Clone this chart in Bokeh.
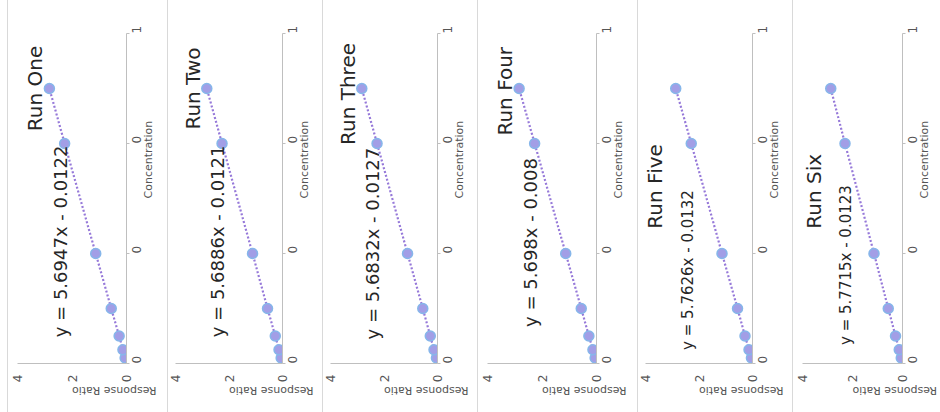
import math
from bokeh.plotting import figure
from bokeh.layouts import row
from bokeh.models import Range1d, FixedTicker, NumeralTickFormatter, Label, Spacer
from bokeh.embed import file_html
from bokeh.resources import INLINE

# ---------------- data ----------------
titles = ["Run One", "Run Two", "Run Three", "Run Four", "Run Five", "Run Six"]
equations = ["y = 5.6947x - 0.0122", "y = 5.6886x - 0.0121", "y = 5.6832x - 0.0127",
             "y = 5.698x - 0.008", "y = 5.7626x - 0.0132", "y = 5.7715x - 0.0123"]
concentration = [0.01, 0.025, 0.05, 0.1, 0.2, 0.4, 0.5]
run_one = [0.05, 0.13, 0.27, 0.56, 1.13, 2.27, 2.83]
run_two = [0.05, 0.13, 0.27, 0.56, 1.12, 2.26, 2.83]
run_three = [0.04, 0.13, 0.27, 0.55, 1.12, 2.26, 2.83]
run_four = [0.05, 0.13, 0.28, 0.56, 1.13, 2.27, 2.84]
run_five = [0.04, 0.13, 0.28, 0.56, 1.14, 2.29, 2.87]
run_six = [0.05, 0.13, 0.28, 0.57, 1.14, 2.30, 2.87]
runs = [run_one, run_two, run_three, run_four, run_five, run_six]
ratio_ticks = [0, 2, 4]
conc_ticks = [0, 0.2, 0.4, 0.6]

# ---------------- layout / style ----------------
panel_w = [159, 154, 154, 159, 154, 147]
left_b = [9, 7, 7, 9, 7, 9]
frame_w = [109, 107, 107, 109, 107, 104]
top_b = [28, 28, 28, 28, 33, 33]
panel_h = 412
frame_h = 335
title_pos = [(3.34, 0.50), (3.34, 0.50), (3.34, 0.49), (3.34, 0.495), (3.63, 0.322), (3.55, 0.313)]
eq_pos = [(2.42, 0.222), (2.42, 0.222), (2.42, 0.218), (2.42, 0.22), (2.42, 0.17), (2.28, 0.179)]
title_size = ["20px"] * 6
eq_size = ["18px", "18px", "18px", "18px", "15px", "15px"]

FONT = "DejaVu Sans"
TXT = "#262626"
TICK = "#555555"
AXIS = "#BFBFBF"
SEP = "#D9D9D9"
MARK_FILL = "#A29EE6"
MARK_LINE = "#86B6EA"
TREND = "#9679D9"

items = [Spacer(width=7, height=panel_h)]
for i in range(6):
    items.append(Spacer(width=1, height=panel_h, styles={"background-color": SEP}))
    rb = panel_w[i] - left_b[i] - frame_w[i]
    bb = panel_h - top_b[i] - frame_h
    p = figure(width=panel_w[i], height=panel_h,
               x_range=Range1d(4, 0), y_range=Range1d(0, 0.6),
               x_axis_location="below", y_axis_location="right",
               output_backend="svg", toolbar_location=None,
               min_border_left=left_b[i], min_border_right=rb,
               min_border_top=top_b[i], min_border_bottom=bb,
               background_fill_color="white", border_fill_color="white",
               outline_line_color=None)
    p.xgrid.visible = False
    p.ygrid.visible = False

    xa = p.xaxis[0]
    xa.ticker = FixedTicker(ticks=ratio_ticks)
    xa.major_label_orientation = math.pi / 2
    xa.major_tick_out = 0
    xa.major_tick_in = 0
    xa.minor_tick_out = 0
    xa.minor_tick_in = 0
    xa.axis_line_color = AXIS
    xa.major_label_text_color = TICK
    xa.major_label_text_font = FONT
    xa.major_label_text_font_size = "12px"
    xa.major_label_standoff = 11
    xa.axis_label = "Response Ratio"
    xa.axis_label_text_font = FONT
    xa.axis_label_text_font_size = "11px"
    xa.axis_label_text_font_style = "normal"
    xa.axis_label_text_color = TICK
    xa.axis_label_standoff = 5
    try:
        xa.axis_label_orientation = math.pi
    except Exception:
        pass

    ya = p.yaxis[0]
    ya.ticker = FixedTicker(ticks=conc_ticks)
    ya.formatter = NumeralTickFormatter(format="0")
    ya.major_label_orientation = math.pi / 2
    ya.major_tick_out = 3
    ya.major_tick_in = 0
    ya.minor_tick_out = 0
    ya.minor_tick_in = 0
    ya.axis_line_color = AXIS
    ya.major_tick_line_color = AXIS
    ya.major_label_text_color = TICK
    ya.major_label_text_font = FONT
    ya.major_label_text_font_size = "12px"
    ya.major_label_standoff = 7
    ya.axis_label = "Concentration"
    ya.axis_label_text_font = FONT
    ya.axis_label_text_font_size = "11px"
    ya.axis_label_text_font_style = "normal"
    ya.axis_label_text_color = TICK
    ya.axis_label_standoff = 0
    try:
        ya.axis_label_orientation = math.pi / 2
    except Exception:
        pass

    p.line(runs[i], concentration, line_color=TREND, line_width=2.2,
           line_dash="2 2")
    p.scatter(runs[i], concentration, size=10, fill_color=MARK_FILL,
              line_color=MARK_LINE, line_width=1.5)

    p.add_layout(Label(x=title_pos[i][0], y=title_pos[i][1], text=titles[i],
                       angle=math.pi / 2, text_align="center", text_baseline="middle",
                       text_font=FONT, text_font_size=title_size[i], text_color=TXT))
    p.add_layout(Label(x=eq_pos[i][0], y=eq_pos[i][1], text=equations[i],
                       angle=math.pi / 2, text_align="center", text_baseline="middle",
                       text_font=FONT, text_font_size=eq_size[i], text_color=TXT))
    items.append(p)

layout = row(*items, spacing=0)
open("out.html", "w").write(file_html(layout, INLINE))
